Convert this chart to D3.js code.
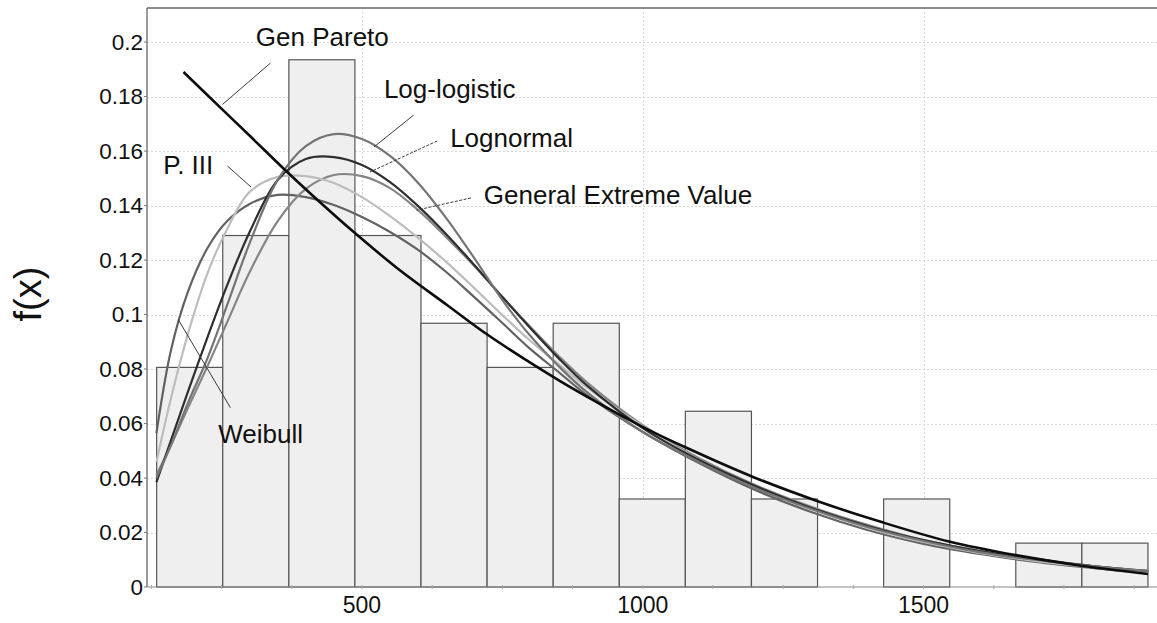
<!DOCTYPE html>
<html>
<head>
<meta charset="utf-8">
<script src="https://cdn.jsdelivr.net/npm/d3@7"></script>
<style>
  body { margin: 0; background: #fff; }
  svg { display: block; }
  text { font-family: "Liberation Sans", Arial, sans-serif; fill: #111; }
</style>
</head>
<body>
<svg id="chart" width="1157" height="623"></svg>
<script>
// ---- histogram (relative frequencies per class) ----
const binEdges = [134.4, 252.1, 369.8, 487.4, 605.1, 722.8, 840.5, 958.2, 1075.8,
                  1193.5, 1311.2, 1428.9, 1546.6, 1664.2, 1781.9, 1899.6];
const binFreq = [0.0806, 0.1290, 0.1935, 0.1290, 0.0968, 0.0806, 0.0968, 0.0323,
                 0.0645, 0.0323, 0, 0.0323, 0, 0.0161, 0.0161];

// ---- axis ticks ----
const yTicks = [0, 0.02, 0.04, 0.06, 0.08, 0.1, 0.12, 0.14, 0.16, 0.18, 0.2];
const yTickLabels = ["0", "0.02", "0.04", "0.06", "0.08", "0.1", "0.12", "0.14", "0.16", "0.18", "0.2"];
const xTicks = [500, 1000, 1500];
const xTickLabels = ["500", "1000", "1500"];
const xMinorTicks = [125, 250, 375, 500, 625, 750, 875, 1000, 1125, 1250, 1375, 1500, 1625, 1750, 1875];

// ---- fitted density curves (x positions shared by five fits) ----
const curveX = [134, 160, 190, 225, 260, 300, 350, 400, 450, 500, 550, 600, 650, 700,
                750, 800, 850, 900, 1000, 1100, 1200, 1300, 1400, 1500, 1600, 1700, 1800, 1900];
const logLogistic = [0.0400, 0.0521, 0.0675, 0.0840, 0.1035, 0.1262, 0.1494, 0.1618, 0.1662, 0.1644,
                     0.1582, 0.1483, 0.1354, 0.1207, 0.1053, 0.0921, 0.0811, 0.0716, 0.0569, 0.0459,
                     0.0363, 0.0286, 0.0220, 0.0169, 0.0128, 0.0099, 0.0077, 0.0059];
const lognormal = [0.0385, 0.0539, 0.0716, 0.0917, 0.1108, 0.1303, 0.1494, 0.1571, 0.1578, 0.1549,
                   0.1486, 0.1398, 0.1295, 0.1182, 0.1064, 0.0950, 0.0840, 0.0741, 0.0583, 0.0466,
                   0.0371, 0.0290, 0.0224, 0.0172, 0.0132, 0.0103, 0.0077, 0.0059];
const genExtreme = [0.0411, 0.0521, 0.0657, 0.0811, 0.0972, 0.1156, 0.1343, 0.1461, 0.1512, 0.1508,
                    0.1464, 0.1383, 0.1284, 0.1178, 0.1064, 0.0954, 0.0848, 0.0752, 0.0594, 0.0473,
                    0.0374, 0.0294, 0.0228, 0.0172, 0.0132, 0.0099, 0.0077, 0.0055];
const pearson3 = [0.0459, 0.0694, 0.0928, 0.1152, 0.1314, 0.1450, 0.1505, 0.1508, 0.1483, 0.1431,
                  0.1361, 0.1281, 0.1193, 0.1097, 0.0998, 0.0903, 0.0818, 0.0734, 0.0591, 0.0466,
                  0.0367, 0.0286, 0.0217, 0.0165, 0.0125, 0.0095, 0.0073, 0.0051];
const weibull = [0.0565, 0.0870, 0.1083, 0.1244, 0.1343, 0.1406, 0.1439, 0.1431, 0.1402, 0.1358,
                 0.1303, 0.1237, 0.1156, 0.1064, 0.0969, 0.0873, 0.0789, 0.0705, 0.0569, 0.0455,
                 0.0356, 0.0275, 0.0209, 0.0158, 0.0121, 0.0092, 0.0070, 0.0051];
// generalized Pareto has its own support start
const paretoX = [182.2, 250.7, 300.6, 360.2, 411.0, 487.5, 562.3, 651.4, 719.2, 786.9, 852.8,
                 923.8, 1000.4, 1078.8, 1196.3, 1315.5, 1422.4, 1545.2, 1666.3, 1783.8, 1899.6];
const pareto = [0.1890, 0.1754, 0.1655, 0.1536, 0.1439, 0.1299, 0.1171, 0.1035, 0.0932, 0.0840,
                0.0756, 0.0672, 0.0587, 0.0510, 0.0404, 0.0312, 0.0240, 0.0167, 0.0116, 0.0077, 0.0048];

// ---- curve labels: name, text anchor point, leader line from / to (data units) ----
const labelNames = ["Gen Pareto", "Log-logistic", "Lognormal", "General Extreme Value", "P. III", "Weibull"];
const labelAt = [[311, 0.1986], [539, 0.1796], [657, 0.1615], [717, 0.1404], [146, 0.1516], [244, 0.0527]];
const leaderFrom = [[337, 0.1923], [592, 0.1732], [634, 0.1637], [694, 0.1428], [260.5, 0.1545], [173.3, 0.0980]];
const leaderTo = [[251.6, 0.1771], [521.4, 0.1615], [514.2, 0.1523], [597, 0.1383], [302.4, 0.1468], [265.8, 0.0658]];

// ---- layout ----
const plot = { left: 147, right: 1160, top: 8, bottom: 587 };

const svg = d3.select("#chart");
const x = d3.scaleLinear().domain([117.2, 1921]).range([plot.left, plot.right]);
const y = d3.scaleLinear().domain([0, 0.2125]).range([plot.bottom, plot.top]);

// grid
const grid = svg.append("g").attr("stroke", "#d9d9d9").attr("stroke-width", 1)
  .attr("stroke-dasharray", "2,2");
grid.selectAll("line.h").data(yTicks.slice(1)).join("line")
  .attr("x1", plot.left).attr("x2", plot.right)
  .attr("y1", d => Math.round(y(d)) + 0.5).attr("y2", d => Math.round(y(d)) + 0.5);
grid.selectAll("line.v").data(xTicks).join("line")
  .attr("y1", plot.top).attr("y2", plot.bottom)
  .attr("x1", d => Math.round(x(d)) + 0.5).attr("x2", d => Math.round(x(d)) + 0.5);

// histogram bars
const bins = binFreq.map((f, i) => ({ x0: binEdges[i], x1: binEdges[i + 1], f }));
svg.append("g").selectAll("rect").data(bins).join("rect")
  .attr("x", d => x(d.x0))
  .attr("width", d => x(d.x1) - x(d.x0))
  .attr("y", d => y(d.f))
  .attr("height", d => y(0) - y(d.f))
  .attr("fill", d => d.f > 0 ? "#efefef" : "none")
  .attr("stroke", "#555")
  .attr("stroke-width", 1.2);

// frame (top and left) and bottom axis line
svg.append("line").attr("x1", plot.left).attr("x2", plot.right)
  .attr("y1", plot.top).attr("y2", plot.top).attr("stroke", "#666").attr("stroke-width", 1.3);
svg.append("line").attr("x1", plot.left).attr("x2", plot.left)
  .attr("y1", plot.top).attr("y2", plot.bottom).attr("stroke", "#666").attr("stroke-width", 1.3);
svg.append("line").attr("x1", plot.left).attr("x2", plot.right)
  .attr("y1", plot.bottom).attr("y2", plot.bottom).attr("stroke", "#888").attr("stroke-width", 1.2);

// y axis ticks and labels
const yAxis = svg.append("g");
yAxis.selectAll("line").data(yTicks).join("line")
  .attr("x1", plot.left - 3).attr("x2", plot.left)
  .attr("y1", d => y(d)).attr("y2", d => y(d))
  .attr("stroke", "#777");
yAxis.selectAll("text").data(yTicks).join("text")
  .attr("x", plot.left - 4).attr("y", d => y(d))
  .attr("dy", "0.35em").attr("text-anchor", "end")
  .attr("font-size", 22.5)
  .text((d, i) => yTickLabels[i]);

// x axis minor ticks and labels
svg.append("g").selectAll("line").data(xMinorTicks).join("line")
  .attr("x1", d => x(d)).attr("x2", d => x(d))
  .attr("y1", plot.bottom - 2).attr("y2", plot.bottom + 2)
  .attr("stroke", "#aaa");
svg.append("g").selectAll("text").data(xTicks).join("text")
  .attr("x", d => x(d)).attr("y", 612.5)
  .attr("text-anchor", "middle")
  .attr("font-size", 23)
  .text((d, i) => xTickLabels[i]);

// y title
svg.append("text")
  .attr("transform", "translate(41,294) rotate(-90)")
  .attr("text-anchor", "middle")
  .attr("font-size", 38)
  .text("f(x)");

// density curves
const line = d3.line().x(d => x(d[0])).y(d => y(d[1])).curve(d3.curveCatmullRom.alpha(0.5));
const fits = [
  { vals: weibull, color: "#626262", width: 2.2 },
  { vals: genExtreme, color: "#858585", width: 2.2 },
  { vals: pearson3, color: "#bdbdbd", width: 2.2 },
  { vals: lognormal, color: "#2e2e2e", width: 2.2 },
  { vals: logLogistic, color: "#747474", width: 2.2 }
];
const curves = svg.append("g").attr("fill", "none").attr("stroke-linejoin", "round");
fits.forEach(c => {
  curves.append("path")
    .datum(curveX.map((v, i) => [v, c.vals[i]]))
    .attr("d", line)
    .attr("stroke", c.color)
    .attr("stroke-width", c.width);
});
curves.append("path")
  .datum(paretoX.map((v, i) => [v, pareto[i]]))
  .attr("d", line)
  .attr("stroke", "#0d0d0d")
  .attr("stroke-width", 2.6);

// labels with leader lines
const leaders = svg.append("g").attr("stroke", "#3a3a3a").attr("stroke-width", 1);
labelNames.forEach((name, i) => {
  leaders.append("line")
    .attr("x1", x(leaderFrom[i][0])).attr("y1", y(leaderFrom[i][1]))
    .attr("x2", x(leaderTo[i][0])).attr("y2", y(leaderTo[i][1]))
    .attr("stroke-dasharray", (i === 2 || i === 3) ? "3,1.5" : null);
  svg.append("text")
    .attr("x", x(labelAt[i][0])).attr("y", y(labelAt[i][1]))
    .attr("font-size", 26)
    .text(name);
});
</script>
</body>
</html>
